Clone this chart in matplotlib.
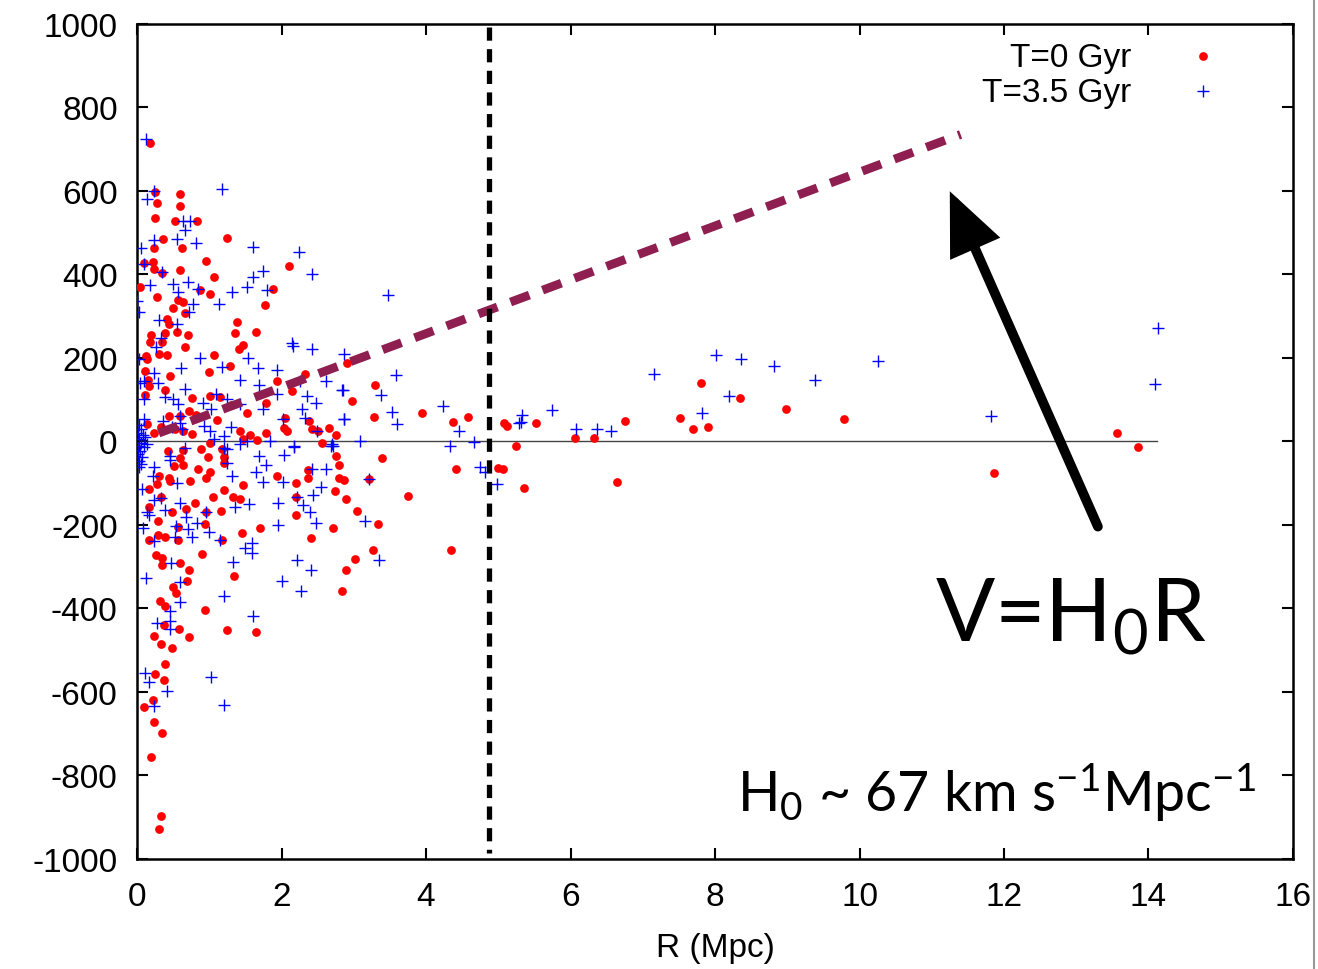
import matplotlib
matplotlib.use("Agg")
import matplotlib.pyplot as plt
from matplotlib.lines import Line2D
import numpy as np

plt.rcParams['font.family'] = ['Liberation Sans', 'DejaVu Sans']
plt.rcParams['mathtext.fontset'] = 'custom'
plt.rcParams['mathtext.rm'] = 'Lato'
plt.rcParams['mathtext.it'] = 'Lato:italic'
plt.rcParams['axes.unicode_minus'] = False

# T = 0 Gyr (red dots): R in Mpc, V in km/s
r0_pts = [
    (0.18, 714), (0.25, 598), (0.59, 592), (0.28, 570), (0.59, 564), (0.25, 535),
    (0.53, 529), (0.83, 527), (0.36, 485), (1.24, 487), (0.23, 462), (0.62, 462),
    (0.10, 428), (0.22, 430), (0.96, 433), (0.23, 414), (0.35, 404), (0.59, 410),
    (2.10, 421), (1.07, 394), (0.04, 369), (0.87, 362), (1.01, 354), (1.88, 366),
    (0.28, 346), (0.56, 339), (0.63, 335), (1.77, 326), (0.50, 319), (0.67, 307),
    (0.41, 294), (0.44, 281), (1.39, 287), (0.19, 256), (0.38, 259), (0.55, 263),
    (0.71, 254), (1.36, 259), (1.64, 262), (0.18, 239), (0.34, 238), (0.67, 227),
    (1.47, 231), (1.41, 221), (0.13, 204), (0.14, 198), (0.30, 209), (0.42, 208),
    (1.07, 208), (1.29, 180), (0.11, 168), (0.46, 156), (1.00, 166), (2.33, 161),
    (0.15, 148), (0.17, 132), (0.39, 123), (0.11, 110), (0.76, 104), (1.01, 109),
    (1.15, 106), (1.94, 144), (1.30, 88), (0.72, 72), (0.82, 64), (1.52, 67),
    (0.44, 62), (0.60, 62), (1.10, 51), (1.79, 91), (2.15, 120), (2.38, 50),
    (2.05, 57), (2.90, 188), (0.14, 41), (0.33, 34), (0.53, 30), (0.64, 26),
    (0.76, 17), (0.23, 21), (1.42, 24), (1.56, 16), (1.66, 3), (1.79, 21),
    (2.03, 32), (2.07, 26), (2.42, 29), (2.51, 24), (2.66, 32), (2.76, 16),
    (2.56, -3), (1.01, -3),
    (0.43, -22), (0.63, -21), (0.60, -40), (0.51, -59), (0.63, -57), (0.89, -19),
    (0.98, -38), (1.17, -17), (1.20, -38), (1.20, -51), (1.46, 5), (2.76, -35),
    (2.79, -57), (0.85, -65), (1.01, -73), (0.96, -88), (0.31, -83), (0.44, -88),
    (0.46, -94), (0.27, -101), (0.73, -94), (1.46, -105), (1.20, -117), (0.16, -115),
    (1.93, -83), (2.20, -99), (2.37, -69), (2.36, -88), (2.80, -88), (2.87, -93),
    (2.74, -118), (2.89, -137), (0.33, -134), (0.17, -156), (0.49, -168), (0.68, -163),
    (0.80, -148), (1.05, -134), (1.33, -132), (1.43, -139), (1.16, -166), (0.96, -168),
    (2.20, -132), (2.20, -177), (0.29, -190), (0.56, -204), (0.94, -198), (1.70, -208),
    (2.71, -208), (0.16, -236), (0.29, -225), (0.39, -230), (0.57, -236), (1.18, -236),
    (1.45, -219), (2.41, -232), (0.26, -273), (0.35, -279), (0.35, -297), (0.60, -290),
    (0.72, -307), (0.90, -270), (1.34, -323), (2.89, -307), (2.84, -358), (0.50, -348),
    (0.54, -364), (0.69, -335), (0.32, -382), (0.39, -393), (0.94, -404), (0.37, -439),
    (0.58, -450), (0.24, -465), (0.33, -485), (0.48, -495), (0.72, -468), (1.25, -452),
    (1.64, -457), (0.38, -532), (0.25, -557), (0.37, -572), (0.22, -620), (0.09, -637),
    (0.23, -671), (0.35, -699), (0.19, -755), (0.33, -897), (0.30, -929),
    (3.30, 135), (2.98, 97), (3.28, 59), (3.94, 67), (4.37, 47), (4.58, 58),
    (5.08, 45), (5.12, 36), (5.52, 45), (6.06, 9), (6.33, 7), (6.76, 50),
    (5.24, -10), (3.39, -39), (4.42, -67), (5.00, -63), (5.06, -67), (5.35, -111),
    (6.64, -97), (3.21, -89), (3.04, -167), (3.75, -131), (3.34, -197), (3.26, -259),
    (3.02, -282), (4.34, -259),
    (7.51, 55), (7.69, 29), (7.90, 34), (7.80, 140), (8.35, 104), (8.98, 78),
    (9.79, 53), (11.86, -75), (13.56, 21), (13.85, -14),
]

# T = 3.5 Gyr (blue crosses)
r35_pts = [
    (0.13, 725), (0.23, 600), (0.14, 580), (1.17, 605), (0.63, 528), (0.73, 528),
    (0.67, 507), (0.23, 482), (0.55, 484), (0.82, 476), (0.06, 462), (1.61, 465),
    (2.24, 453), (0.10, 426), (0.35, 406), (1.74, 408), (1.60, 394), (2.42, 400),
    (0.18, 374), (0.50, 378), (0.70, 382), (0.56, 359), (0.84, 364), (1.52, 369),
    (1.32, 359), (1.80, 363), (0.00, 336), (0.77, 328), (1.13, 328), (0.03, 310),
    (0.72, 310), (0.30, 290), (0.55, 281), (0.33, 248), (0.26, 226), (0.02, 198),
    (0.87, 199), (0.61, 176), (1.17, 179), (1.54, 199), (2.14, 236), (2.16, 228),
    (2.42, 222), (1.67, 175), (1.94, 172), (0.23, 165), (0.04, 141), (0.29, 141),
    (1.43, 147), (1.69, 135), (0.66, 126), (2.84, 124), (2.26, 145), (0.09, 102),
    (0.39, 107), (0.50, 101), (0.57, 89), (1.09, 113), (0.91, 91), (1.25, 101),
    (1.43, 89), (1.93, 113), (2.35, 109), (2.48, 91), (2.62, 144), (1.75, 77),
    (2.28, 78), (2.32, 57), (2.02, 53), (2.86, 54), (0.09, 53), (0.36, 48),
    (0.59, 61), (0.59, 45), (0.48, 35), (0.93, 37), (1.30, 34), (1.01, 24),
    (1.20, 14), (2.49, 26), (1.84, 0), (2.17, -10), (2.70, -6), (1.52, 0),
    (0.09, 144), (1.03, 77), (0.62, 29), (1.06, 5), (1.20, -15), (1.43, -7), (0.66, -15),
    (0.02, 40), (0.05, 30), (0.01, 20), (0.08, 15), (0.03, 5), (0.06, -3),
    (0.02, -10), (0.10, -14), (0.04, -22), (0.01, -30), (0.07, -38), (0.03, -47),
    (0.05, -55), (0.02, -62), (0.11, 10), (0.14, -5),
    (0.23, -62), (0.22, -83), (0.45, -34), (0.45, -45), (0.07, -115), (0.55, -99),
    (0.23, -141), (0.33, -136), (0.38, -164), (0.14, -168), (0.17, -177), (0.60, -148),
    (0.68, -180), (0.96, -168), (0.83, -196), (0.54, -203), (0.71, -209), (0.52, -228),
    (0.76, -228), (1.00, -217), (0.08, -208), (0.24, -238), (1.15, -236), (1.31, -83),
    (1.24, -51), (1.24, -19), (1.69, -35), (1.78, -56), (1.65, -73), (1.75, -96),
    (2.03, -32), (2.17, -14), (1.95, -148), (1.55, -150), (1.35, -158), (1.95, -199),
    (2.02, -96), (2.42, -65), (2.62, -65), (2.54, -108), (2.43, -128), (2.30, -153),
    (2.40, -169), (2.47, -196), (2.21, -134), (2.69, -10), (1.49, -255), (1.59, -243),
    (1.59, -267), (1.33, -289), (2.21, -283), (2.41, -307), (2.00, -334), (2.27, -359),
    (1.61, -417), (1.21, -370), (0.12, -327), (0.47, -292), (0.59, -337), (0.60, -385),
    (0.46, -407), (0.46, -431), (0.28, -434), (0.45, -450), (0.11, -554), (0.17, -576),
    (0.42, -597), (0.23, -634), (1.03, -565), (1.21, -632),
    (3.48, 350), (2.87, 209), (3.58, 158), (2.85, 122), (3.37, 110), (4.23, 84),
    (3.53, 71), (3.60, 41), (2.87, 53), (4.45, 25), (5.33, 63), (5.31, 47),
    (5.28, 44), (5.75, 75), (6.08, 30), (6.36, 30), (6.56, 24), (3.09, 2),
    (2.71, -11), (4.33, -12), (4.66, -2), (4.74, -61), (4.81, -73), (4.98, -101),
    (3.21, -89), (3.15, -191), (3.35, -283),
    (7.15, 162), (7.82, 69), (8.02, 207), (8.19, 109), (8.36, 197), (8.82, 180),
    (9.39, 146), (10.26, 193), (11.82, 60), (14.09, 137), (14.13, 271),
]

r0_x = [p[0] for p in r0_pts]
r0_v = [p[1] for p in r0_pts]
r35_x = [p[0] for p in r35_pts]
r35_v = [p[1] for p in r35_pts]

hubble_r = [0.3, 11.4]
hubble_v = [20, 735]
r_cut = 4.87
zero_r = [0, 14.12]
arrow_tail = (13.30, -204)
arrow_tip = (11.25, 599)

fig = plt.figure(figsize=(13.18, 9.70), dpi=100)
ax = fig.add_axes([0.104, 0.1134, 0.877, 0.861])

ax.plot(zero_r, [0, 0], color='#444444', lw=1.0, zorder=1)
ax.plot(r0_x, r0_v, 'o', color='red', ms=6.3, mew=0, zorder=3)
ax.plot(r35_x, r35_v, '+', color='blue', ms=9, mew=1.0, zorder=3)

ax.plot(hubble_r, hubble_v, color='#8e1f50', lw=6.3, dashes=(2.3, 1.6),
        solid_capstyle='butt', dash_capstyle='butt', zorder=4)
ax.plot([r_cut, r_cut], [993, -985], color='black', lw=3.8, dashes=(2.5, 1.6),
        dash_capstyle='butt', zorder=4)

ax.annotate('', xy=arrow_tip, xytext=arrow_tail,
            arrowprops=dict(arrowstyle='-|>,head_length=0.55,head_width=0.24',
                            lw=7, color='black', mutation_scale=60,
                            shrinkA=0, shrinkB=0, joinstyle='miter'),
            zorder=5)

ax.text(11.05, -477, r'V=H$_0$R', fontsize=63, family='Lato', va='baseline', ha='left')
ax.text(8.3, -886, r'H$_0$ ~ 67 km s$^{-1}$Mpc$^{-1}$', fontsize=40, family='Lato',
        va='baseline', ha='left')

# key
ax.text(0.860, 0.960, 'T=0 Gyr', transform=ax.transAxes, fontsize=24,
        ha='right', va='center')
ax.text(0.860, 0.918, 'T=3.5 Gyr', transform=ax.transAxes, fontsize=24,
        ha='right', va='center')
ax.plot([0.922], [0.962], 'o', color='red', ms=6.3, mew=0, transform=ax.transAxes)
ax.plot([0.922], [0.920], '+', color='blue', ms=9, mew=1.0, transform=ax.transAxes)

ax.set_xlim(0, 16)
ax.set_ylim(-1000, 1000)
ax.set_xticks(np.arange(0, 17, 2))
ax.set_yticks(np.arange(-1000, 1001, 200))
ax.tick_params(direction='in', length=8, width=1.5, top=True, right=True,
               labelsize=24, pad=14)
ax.tick_params(axis='x', pad=16)
for s in ax.spines.values():
    s.set_linewidth(1.8)
ax.set_xlabel('R (Mpc)', fontsize=24, labelpad=14)

fig.add_artist(Line2D([0.997, 0.997], [0, 1], color='#999999', lw=1.5,
                      transform=fig.transFigure))

fig.savefig('out.png', dpi=100)
